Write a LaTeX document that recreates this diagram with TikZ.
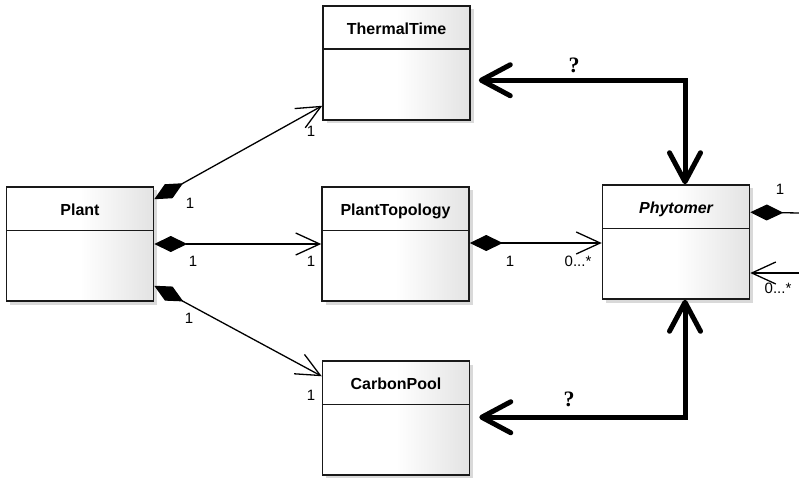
\documentclass[tikz,border=0pt]{standalone}
\usepackage{fontspec}
\setmainfont{Liberation Sans}
\newfontfamily\qfont{Liberation Serif}
\usetikzlibrary{arrows.meta,calc,shadows}

% white on the left half, fading to light grey at the right edge
\pgfdeclarehorizontalshading{classfill}{100bp}{color(0bp)=(white); color(50bp)=(white); color(75bp)=(black!11); color(100bp)=(black!11)}

\tikzset{
  classbox/.style={draw=black!90, line width=1.5pt, shading=classfill,
    minimum width=147pt, minimum height=114pt, inner sep=0pt,
    drop shadow={shadow xshift=3.5pt, shadow yshift=-3.5pt, fill=black, opacity=0.15}},
  classname/.style={anchor=base, inner sep=0pt, font=\fontsize{16}{18}\selectfont\bfseries},
  mult/.style={inner sep=0pt, font=\fontsize{15}{17}\selectfont},
  qmark/.style={inner sep=0pt, font=\fontsize{22}{24}\selectfont\qfont\bfseries},
  assoc/.style={line width=1.3pt, -{Straight Barb[length=24pt,width=22pt]}},
  comp/.style={line width=1.3pt, {Diamond[length=33pt,width=16pt]}-{Straight Barb[length=24pt,width=22pt]}},
  compend/.style={line width=1.3pt, {Diamond[length=33pt,width=16pt]}-},
  bigarrow/.style={line width=5pt, line join=miter,
    {Straight Barb[length=29pt,width=31pt,round]}-{Straight Barb[length=29pt,width=31pt,round]}},
}

% class box: name, centre x, top y, title
\newcommand\umlclass[4]{%
  \node[classbox] (#1) at (#2,#3+57) {};
  \draw[line width=1.5pt, black!90] ($(#1.north west)+(0,44)$) -- ($(#1.north east)+(0,44)$);
  \node[classname] (#1-name) at ($(#1.north)+(0,29)$) {#4};
}

\begin{document}
\begin{tikzpicture}[x=1pt, y=-1pt]
\useasboundingbox (0,0) rectangle (799,478);

\umlclass{plant}{80}{187}{Plant}
\umlclass{thermal}{396.5}{6}{ThermalTime}
\umlclass{topo}{395.5}{187}{PlantTopology}
\umlclass{carbon}{396}{361}{CarbonPool}
\umlclass{phy}{676}{185}{\itshape Phytomer}

% composition links from Plant
\draw[comp] ($(plant.north east)+(0,13)$) -- ($(thermal.south west)+(0,-15)$);
\draw[comp] (plant.east) -- (plant.east -| topo.west);
\draw[comp] ($(plant.south east)+(0,-16)$) -- ($(carbon.north west)+(0,16)$);

\node[mult] (m1) at (190,203) {1};
\node[mult] (m2) at (311,131) {1};
\node[mult] (m3) at (193,261) {1};
\node[mult] (m4) at (311,261) {1};
\node[mult] (m5) at (189,318) {1};
\node[mult] (m6) at (311,395) {1};

% PlantTopology to Phytomer
\draw[comp] (topo.east |- 0,243) -- (phy.west |- 0,243);
\node[mult] (m7) at (510,261) {1};
\node[mult] (m8) at (578,261) {0...*};

% self links of Phytomer leaving the right edge
\coordinate (selfA) at (800,213);
\coordinate (selfB) at (800,273);
\draw[compend] ($(phy.north east)+(0,28)$) -- (selfA);
\draw[assoc] (selfB) -- (phy.east |- selfB);
\node[mult] (m9) at (780,189) {1};
\node[mult] (m10) at (778,288) {0...*};

% open questions
\draw[bigarrow] ($(thermal.north east)+(8,75)$) -| ($(phy.north)+(9,0)$);
\draw[bigarrow] ($(carbon.north east)+(9,57)$) -| ($(phy.south)+(9,0)$);
\node[qmark] (q1) at (574,65) {?};
\node[qmark] (q2) at (569,399) {?};
\end{tikzpicture}
\end{document}
